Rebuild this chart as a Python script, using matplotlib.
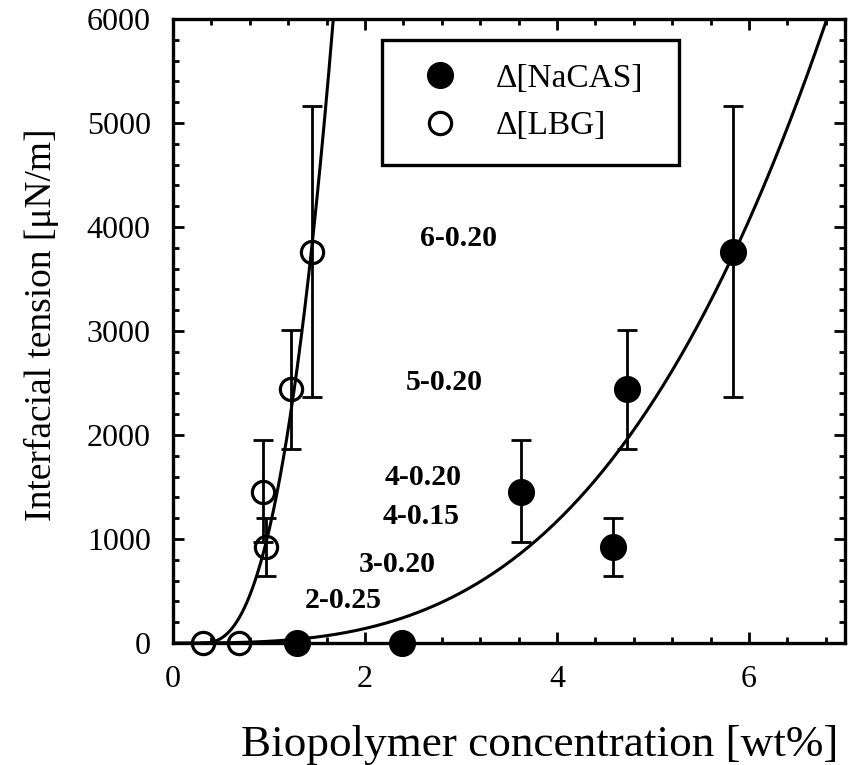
import numpy as np
import matplotlib
matplotlib.use("Agg")
import matplotlib.pyplot as plt
from matplotlib.lines import Line2D
from matplotlib.ticker import MultipleLocator

plt.rcParams['font.family'] = ['Liberation Serif', 'DejaVu Serif']

# values
nacas_x = [1.29, 2.39, 3.63, 4.58, 4.73, 5.83]
lbg_x = [0.31, 0.69, 0.94, 0.97, 1.23, 1.45]
tension = [0, 0, 1450, 920, 2440, 3760]
err_low = [0, 0, 480, 280, 575, 1395]
err_high = [0, 0, 500, 285, 565, 1400]

# fitted curves y = a * (x - x0) ** n
nacas_fit = (16.6, 0.0, 3.07)
lbg_fit = (2690.0, 0.30, 2.55)

ann_labels = ['6-0.20', '5-0.20', '4-0.20', '4-0.15', '3-0.20', '2-0.25']
ann_x = [2.97, 2.83, 2.61, 2.58, 2.34, 1.77]
ann_y = [3894, 2500, 1596, 1221, 750, 413]

legend_labels = ['\u0394[NaCAS]', '\u0394[LBG]']

fig = plt.figure(figsize=(8.54, 7.65), dpi=100)
ax = fig.add_axes([173 / 854, 122 / 765, 672 / 854, 624 / 765])

# fit curves
a, x0, n = nacas_fit
xs = np.linspace(x0, 7.0, 400)
ax.plot(xs, a * (xs - x0) ** n, color='black', lw=2.2, zorder=2)
a, x0, n = lbg_fit
xs = np.linspace(x0, 1.8, 400)
ax.plot(xs, a * (xs - x0) ** n, color='black', lw=2.2, zorder=2)

# error bars (only where there is an error)
nx = np.array(nacas_x)
lx = np.array(lbg_x)
y = np.array(tension)
lo = np.array(err_low)
hi = np.array(err_high)
m = (lo + hi) > 0
for xx in (nx, lx):
    ax.errorbar(xx[m], y[m], yerr=[lo[m], hi[m]], fmt='none', ecolor='black',
                elinewidth=2.0, capsize=7.5, capthick=2.0, zorder=3)

ax.plot(nacas_x, tension, 'o', color='black', ms=18.5, zorder=4, clip_on=False)
ax.plot(lbg_x, tension, 'o', mfc='none', mec='black', mew=2.3, ms=16, zorder=4, clip_on=False)

for lab, tx, ty in zip(ann_labels, ann_x, ann_y):
    ax.text(tx, ty, lab, fontsize=21.5, fontweight='bold', ha='center', va='center')

ax.set_xlim(0, 7)
ax.set_ylim(0, 6000)
ax.xaxis.set_major_locator(MultipleLocator(2))
ax.xaxis.set_minor_locator(MultipleLocator(0.4))
ax.yaxis.set_major_locator(MultipleLocator(1000))
ax.yaxis.set_minor_locator(MultipleLocator(200))
ax.tick_params(which='both', direction='in', top=True, right=True, width=2.0)
ax.tick_params(which='major', length=8, labelsize=23, pad=16)
ax.tick_params(which='minor', length=4.5)
for s in ax.spines.values():
    s.set_linewidth(2.4)

ax.set_xlabel('Biopolymer concentration [wt%]', fontsize=32.5)
ax.xaxis.set_label_coords(0.545, -0.163)
ax.xaxis.label.set_va('center')
ax.set_ylabel('Interfacial tension [\u03bcN/m]', fontsize=27)
ax.yaxis.set_label_coords(-0.196, 0.51)
ax.yaxis.label.set_va('center')

handles = [Line2D([], [], ls='none', marker='o', color='black', ms=18.5),
           Line2D([], [], ls='none', marker='o', mfc='none', mec='black', mew=2.3, ms=16)]
leg = ax.legend(handles, legend_labels, loc='upper left',
                bbox_to_anchor=(0.311, 0.966, 0.442, 0.0), mode='expand',
                borderaxespad=0, fontsize=24,
                fancybox=False, framealpha=1, edgecolor='black', borderpad=0.7,
                labelspacing=0.5, handlelength=2.1, handletextpad=0.6)
leg.get_frame().set_linewidth(2.4)

plt.savefig('out.png', dpi=100)
